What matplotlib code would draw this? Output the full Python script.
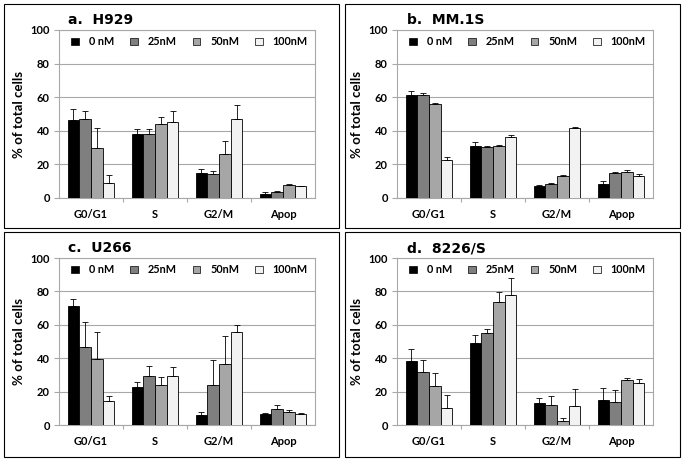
import matplotlib
matplotlib.use('Agg')
from matplotlib import pyplot as plt
from matplotlib.patches import Rectangle
import numpy as np

# Data
phases = ['G0/G1', 'S', 'G2/M', 'Apop']
doses = ['0 nM', '25nM', '50nM', '100nM']
titles = ['a.  H929', 'b.  MM.1S', 'c.  U266', 'd.  8226/S']

# means per dose (rows) and phase (cols)
h929_mean = [[46.7, 37.8, 14.7, 2.2],
             [47.1, 38.2, 14.5, 3.4],
             [29.9, 43.8, 26.1, 7.9],
             [8.7, 45.1, 46.9, 6.9]]
h929_err = [[6.0, 3.4, 2.5, 1.4],
            [4.8, 3.0, 1.5, 1.0],
            [11.5, 4.3, 7.8, 0.4],
            [5.0, 6.6, 8.5, 0.4]]

mm1s_mean = [[61.4, 30.9, 7.3, 8.3],
             [61.6, 30.1, 8.1, 14.7],
             [55.8, 30.9, 12.9, 15.6],
             [22.8, 36.6, 41.8, 13.1]]
mm1s_err = [[2.2, 2.6, 0.4, 2.0],
            [1.0, 0.8, 0.6, 0.7],
            [0.6, 0.8, 0.6, 0.8],
            [1.4, 0.8, 0.6, 1.0]]

u266_mean = [[71.0, 22.7, 6.2, 6.6],
             [46.9, 29.6, 23.9, 9.5],
             [39.4, 23.9, 36.4, 8.0],
             [14.5, 29.6, 55.7, 6.6]]
u266_err = [[4.7, 2.9, 1.6, 0.6],
            [14.5, 5.6, 14.9, 2.6],
            [16.5, 4.7, 17.1, 1.1],
            [3.0, 5.2, 3.9, 0.6]]

rpmi_mean = [[38.2, 49.1, 12.9, 14.9],
             [32.0, 55.1, 11.9, 13.5],
             [23.5, 73.4, 2.6, 26.8],
             [10.1, 78.1, 11.3, 24.9]]
rpmi_err = [[7.5, 5.0, 3.2, 7.0],
            [7.0, 2.2, 5.4, 7.4],
            [7.7, 6.3, 1.4, 1.2],
            [7.8, 10.0, 10.4, 2.5]]

colors = ['#000000', '#7f7f7f', '#a6a6a6', '#f2f2f2']

# Layout in pixels: (left, right, top, bottom)
W, H = 685, 461
ax_boxes = [(59, 315, 30, 198), (397, 653, 30, 198),
            (59, 315, 258, 425), (397, 653, 258, 425)]
frames = [(4, 339, 4, 228), (345, 680, 4, 228),
          (4, 339, 232, 457), (345, 680, 232, 457)]
title_pos = [(68, 20), (407, 20), (68, 248), (407, 248)]

fig = plt.figure(figsize=(W / 100, H / 100), dpi=100)
grid_col = '#a8a8a8'

panels = [(h929_mean, h929_err), (mm1s_mean, mm1s_err),
          (u266_mean, u266_err), (rpmi_mean, rpmi_err)]

for k, (means, errs) in enumerate(panels):
    l, r, t, b = ax_boxes[k]
    ax = fig.add_axes([l / W, 1 - b / H, (r - l) / W, (b - t) / H])
    x = np.arange(len(phases)) + 0.5
    width = 0.183
    for i in range(len(doses)):
        xi = x + (i - 1.5) * width
        ax.bar(xi, means[i], width, color=colors[i], edgecolor='black',
               linewidth=0.6, label=doses[i], zorder=3)
        ax.errorbar(xi, means[i], yerr=[np.zeros(4), errs[i]], fmt='none',
                    ecolor='black', elinewidth=0.6, capsize=2.0,
                    capthick=0.6, zorder=4)
    ax.set_xlim(0, 4)
    ax.set_ylim(0, 100)
    ax.set_yticks([0, 20, 40, 60, 80, 100])
    ax.yaxis.grid(True, color=grid_col, linewidth=0.8, zorder=0)
    ax.set_xticks([1, 2, 3])
    ax.set_xticklabels([])
    ax.set_xticks(x, minor=True)
    ax.set_xticklabels(phases, minor=True, fontsize=8, fontweight='bold',
                       family='Lato')
    ax.tick_params(axis='x', which='major', length=3, color=grid_col,
                   direction='out')
    ax.tick_params(axis='x', which='minor', length=0, pad=8)
    ax.tick_params(axis='y', length=3.5, color=grid_col, labelsize=8,
                   pad=3)
    for lab in ax.get_yticklabels():
        lab.set_fontweight('bold')
        lab.set_family('Lato')
    for s in ax.spines.values():
        s.set_color(grid_col)
        s.set_linewidth(0.8)
    ax.set_ylabel('% of total cells', fontsize=9.5, fontweight='bold',
                  family='Lato', labelpad=4)
    leg = ax.legend(loc='center', bbox_to_anchor=(0.51, 0.93), ncol=4,
                    frameon=False, handlelength=0.7, handleheight=0.7,
                    handletextpad=0.9, columnspacing=1.5,
                    prop={'family': 'Lato', 'weight': 'bold', 'size': 7.8})
    for p in leg.get_patches():
        p.set_linewidth(0.5)

    # panel frame and title
    fl, fr, ft, fb = frames[k]
    fig.patches.append(Rectangle((fl / W, 1 - fb / H), (fr - fl) / W,
                                 (fb - ft) / H, transform=fig.transFigure,
                                 fill=False, edgecolor='black',
                                 linewidth=0.8))
    tx, ty = title_pos[k]
    fig.text(tx / W, 1 - ty / H, titles[k], fontsize=10, fontweight='bold',
             family='DejaVu Sans', va='center', ha='left')

fig.savefig('out.png', dpi=100)
